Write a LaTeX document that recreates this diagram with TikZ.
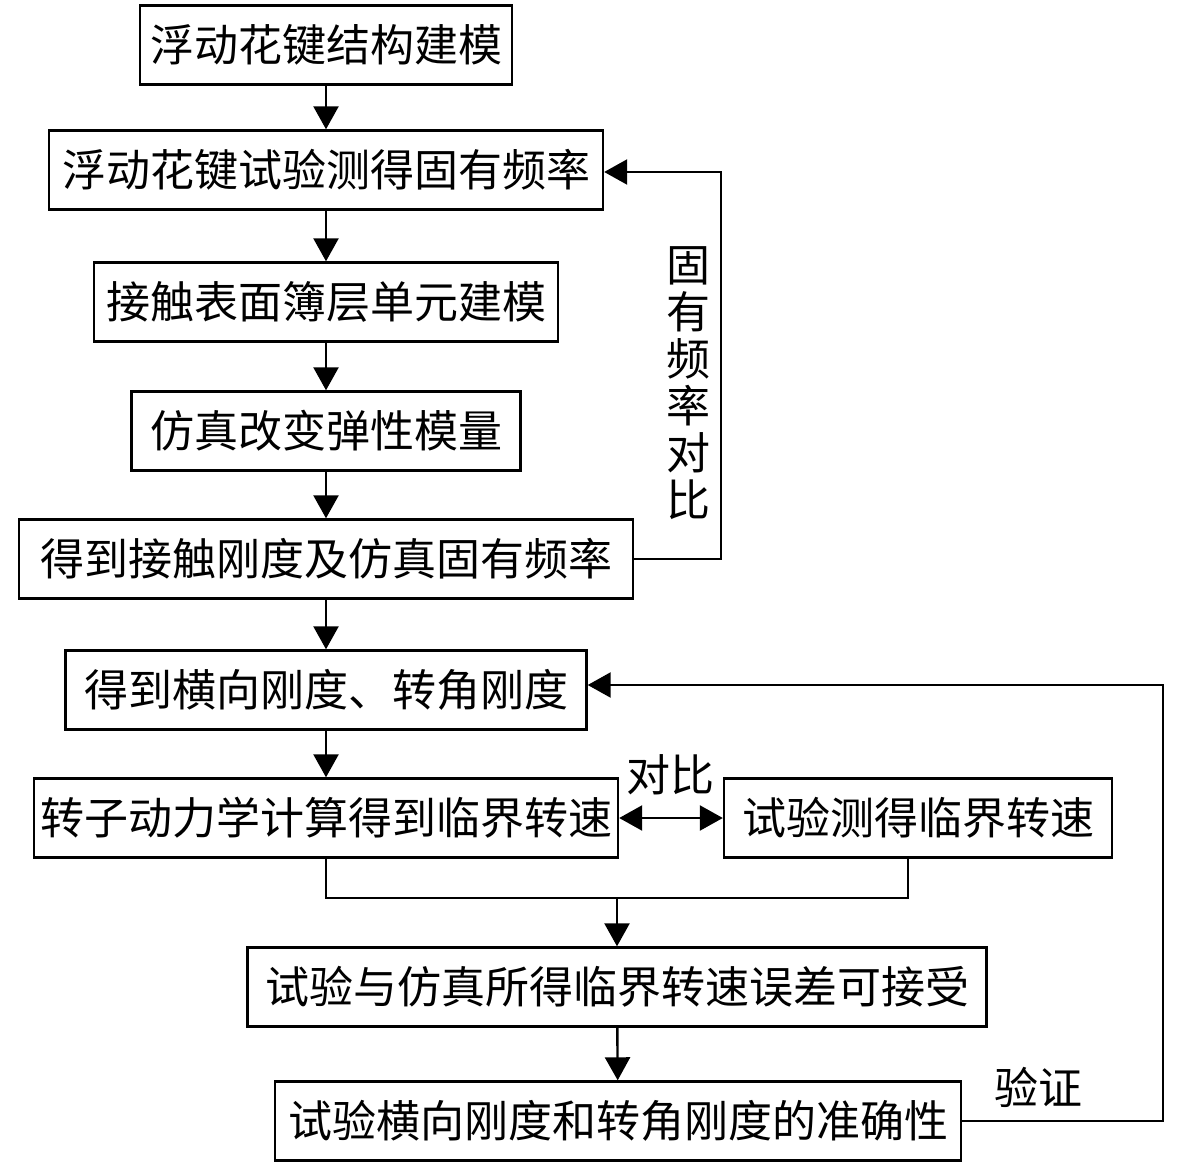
\documentclass[tikz,border=0pt]{standalone}
\usepackage{fontspec}
\newfontfamily\cjk{Noto Sans CJK SC}
\usetikzlibrary{arrows.meta}
\usetikzlibrary{positioning}

\begin{document}
\begin{tikzpicture}[
box/.style={rectangle, draw=black, line width=1.2pt, minimum height=39.5pt, inner sep=0pt, font=\cjk\fontsize{22}{24}\selectfont},
lab/.style={inner sep=0pt, align=center, font=\cjk\fontsize{22}{23.5}\selectfont},
arr/.style={line width=1.2pt, -{Triangle[length=11.5pt,width=12.5pt]}},
arrboth/.style={line width=1.2pt, {Triangle[length=11.5pt,width=12.5pt]}-{Triangle[length=11.5pt,width=12.5pt]}},
line/.style={line width=1.2pt}]
\useasboundingbox (0pt,0pt) rectangle (590.5pt,-582.5pt);
\node (1) [box, minimum width=186pt] at (163pt, -22.5pt) {浮动花键结构建模};
\node (2) [box, minimum width=277pt] at (163pt, -85pt) {浮动花键试验测得固有频率};
\node (3) [box, minimum width=232pt] at (163pt, -151pt) {接触表面簿层单元建模};
\node (4) [box, minimum width=194.5pt] at (163pt, -215.5pt) {仿真改变弹性模量};
\node (5) [box, minimum width=307pt] at (163pt, -279.5pt) {得到接触刚度及仿真固有频率};
\node (6) [box, minimum width=260.5pt] at (163pt, -345pt) {得到横向刚度、转角刚度};
\node (7) [box, minimum width=292pt] at (163pt, -409pt) {转子动力学计算得到临界转速};
\node (8) [box, minimum width=194pt] at (459pt, -409pt) {试验测得临界转速};
\node (9) [box, minimum width=369.5pt] at (308.5pt, -493.5pt) {试验与仿真所得临界转速误差可接受};
\node (10) [box, minimum width=343pt] at (309pt, -560.5pt) {试验横向刚度和转角刚度的准确性};
\node (fc) [lab] at (344pt, -191.5pt) {固\\有\\频\\率\\对\\比};
\node (db) [lab] at (335pt, -387.5pt) {对比};
\node (yz) [lab] at (519pt, -543.5pt) {验证};
\coordinate (m) at (308.5pt, -449pt);
\draw [arr] (1) to (2);
\draw [arr] (2) to (3);
\draw [arr] (3) to (4);
\draw [arr] (4) to (5);
\draw [arr] (5) to (6);
\draw [arr] (6) to (7);
\draw [arrboth] (7) to (8);
\draw [line] (7.south) |- (m) -| ([xshift=-5pt]8.south);
\draw [arr] (m) to (9);
\draw [arr] (9) to (10);
\draw [arr] (5.east) -- ++(43.5pt,0) |- ([yshift=-1pt]2.east);
\draw [arr] (10.east) -- ++(100.5pt,0) |- ([yshift=2.5pt]6.east);
\end{tikzpicture}
\end{document}
